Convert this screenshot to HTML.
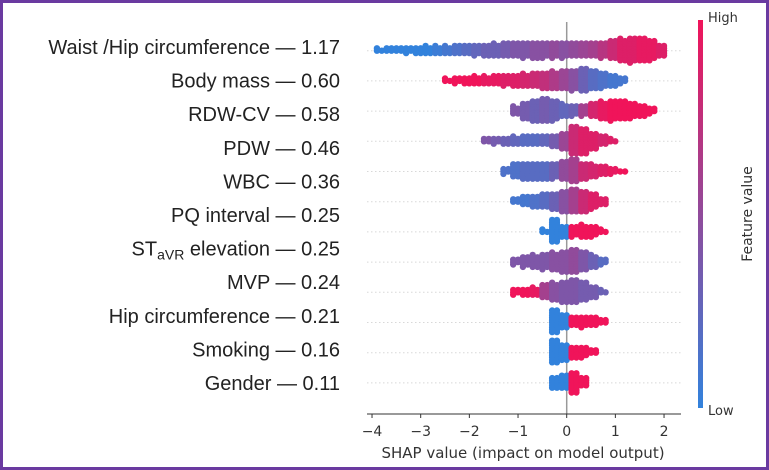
<!DOCTYPE html>
<html><head><meta charset="utf-8"><style>
html,body{margin:0;padding:0;background:#fff}
#wrap{position:relative;width:769px;height:470px;box-sizing:border-box;border:3px solid #6a3aa0;overflow:hidden;background:#fff}
svg{position:absolute;left:-3px;top:-3px}
</style></head><body>
<div id="wrap">
<svg id="chart" width="769" height="470"></svg>
</div>
<script>
const featureLabels = ["Waist /Hip circumference — 1.17","Body mass — 0.60","RDW-CV — 0.58","PDW — 0.46","WBC — 0.36","PQ interval — 0.25","ST_aVR elevation — 0.25","MVP — 0.24","Hip circumference — 0.21","Smoking — 0.16","Gender — 0.11"];
const xTicks = [-4,-3,-2,-1,0,1,2];
const binStart = -3.85;
const binStep = 0.2;
const rowStart = [0,7,14,11,13,14,17,14,14,18,18,18];
const rowCounts = [
 [3,4,4,5,6,7,7,7,8,8,9,10,11,12,12,13,14,13,13,13,12,12,12,13,16,19,21,20,17,10,0],
 [3,5,6,7,7,8,9,10,11,12,14,15,16,17,20,16,13,10,5],
 [7,14,18,20,17,11,9,9,12,15,17,16,13,10,5],
 [4,5,6,7,8,8,8,10,14,24,22,14,8,3],
 [5,12,14,14,14,13,16,20,14,11,8,5,2],
 [4,8,10,12,14,18,20,18,13,6],
 [3,20,10,9,11,9,3],
 [5,9,11,13,15,18,20,16,11,5],
 [5,6,7,12,15,18,20,16,10,3],
 [20,12,8,9,8,4],
 [20,14,10,9,4],
 [10,12,18,8]
];
const rowColors = [
 [0,0,0,0,0,0,0.05,0.1,0.15,0.2,0.25,0.3,0.3,0.35,0.4,0.4,0.45,0.45,0.5,0.45,0.5,0.55,0.6,0.7,0.8,0.9,0.9,0.95,0.95,0.9,0.9],
 [1,1,1,1,0.95,0.95,0.9,0.9,0.85,0.8,0.75,0.65,0.55,0.45,0.3,0.2,0.15,0.1,0.1],
 [0.4,0.35,0.3,0.35,0.3,0.25,0.3,0.6,0.85,0.95,1,1,1,1,1],
 [0.4,0.35,0.3,0.25,0.2,0.2,0.25,0.35,0.55,0.8,0.9,0.9,0.85,0.9],
 [0.15,0.15,0.2,0.2,0.2,0.3,0.5,0.6,0.8,0.85,0.9,0.95,1],
 [0.1,0.1,0.15,0.2,0.3,0.45,0.6,0.8,0.9,0.9],
 [0,0,0,1,1,1,1],
 [0.4,0.4,0.4,0.4,0.45,0.45,0.5,0.4,0.3,0.2],
 [1,1,0.95,0.6,0.45,0.4,0.4,0.35,0.35,0.3],
 [0,0,1,1,1,1],
 [0,0,1,1,1],
 [0,0,1,1]
];
const NS="http://www.w3.org/2000/svg";
const svg=document.getElementById('chart');
const X0=566.7, PX=48.67;
function xScale(v){return X0+v*PX;}
function rowY(i){return 50.7+i*30.2;}
function labelY(i){return 47+i*33.6;}
function col(t){
  const b=[50,130,220], r=[240,20,90];
  const c=b.map((v,k)=>Math.round(v+(r[k]-v)*t));
  return `rgb(${c[0]},${c[1]},${c[2]})`;
}
function mk(tag,attrs){const e=document.createElementNS(NS,tag);for(const k in attrs)e.setAttribute(k,attrs[k]);svg.appendChild(e);return e;}
rowCounts.forEach((r,i)=>{
  const g=mk('line',{x1:367,x2:681,y1:rowY(i),y2:rowY(i),stroke:'#d8d8d8','stroke-width':1,'stroke-dasharray':'1.5,2.5'});
  
  
});
const z=mk('line',{x1:xScale(0),x2:xScale(0),y1:22,y2:414,stroke:'#999','stroke-width':1.5});


rowCounts.forEach((counts,i)=>{
  const gEl=mk('g',{});
  
  
  counts.forEach((n,b)=>{
    const v=binStart+(rowStart[i]+b)*binStep;
    const cx=xScale(v);
    const fill=col(rowColors[i][b]);
    for(let k=0;k<n;k++){
      const j=Math.floor(k/2);
      const off=(j%2?-1:1)*Math.ceil(j/2)*2.4;
      const dx=(k%2?2.4:-2.4);
      const c=document.createElementNS(NS,'circle');
      c.setAttribute('cx',cx+dx);c.setAttribute('cy',rowY(i)+off);c.setAttribute('r',3.2);c.setAttribute('fill',fill);
      
      
      gEl.appendChild(c);
    }
  });
});
const ax=mk('line',{x1:367,x2:681,y1:414,y2:414,stroke:'#333','stroke-width':1});


xTicks.forEach(t=>{
  const tk=mk('line',{x1:xScale(t),x2:xScale(t),y1:414,y2:418,stroke:'#333'});
  
  
  const tl=mk('text',{x:xScale(t),y:436,'text-anchor':'middle','font-family':'DejaVu Sans, sans-serif','font-size':14,fill:'#333'});
  tl.textContent=(t<0?'\u2212'+(-t):String(t));
  
  
});
const xt=mk('text',{x:523,y:458,'text-anchor':'middle','font-family':'DejaVu Sans, sans-serif','font-size':15,fill:'#333'});
xt.textContent='SHAP value (impact on model output)';


featureLabels.forEach((l,i)=>{
  const t=mk('text',{x:340,y:labelY(i)+7,'text-anchor':'end','font-family':'Liberation Sans, Arial, sans-serif','font-size':20,fill:'#222'});
  if(l.indexOf('ST_aVR')===0){
    const a=document.createElementNS(NS,'tspan');a.textContent='ST';t.appendChild(a);
    const s=document.createElementNS(NS,'tspan');s.textContent='aVR';s.setAttribute('font-size',14);s.setAttribute('dy',4);t.appendChild(s);
    const r=document.createElementNS(NS,'tspan');r.textContent=l.slice(6);r.setAttribute('dy',-4);t.appendChild(r);
  } else t.textContent=l;
  
  
});
const defs=mk('defs',{});
defs.innerHTML='<linearGradient id="cb" x1="0" y1="0" x2="0" y2="1"><stop offset="0" stop-color="rgb(240,20,90)"/><stop offset="0.5" stop-color="rgb(145,75,155)"/><stop offset="1" stop-color="rgb(50,130,220)"/></linearGradient>';
const cb=mk('rect',{x:698,y:20,width:5,height:388,fill:'url(#cb)'});


const hi=mk('text',{x:708,y:22,'font-family':'DejaVu Sans, sans-serif','font-size':13,fill:'#333'});
hi.textContent='High';


const lo=mk('text',{x:708,y:415,'font-family':'DejaVu Sans, sans-serif','font-size':13,fill:'#333'});
lo.textContent='Low';


const fv=mk('text',{x:0,y:0,'text-anchor':'middle','font-family':'DejaVu Sans, sans-serif','font-size':14,fill:'#333',transform:'translate(752,214) rotate(-90)'});
fv.textContent='Feature value';


</script>
</body></html>
